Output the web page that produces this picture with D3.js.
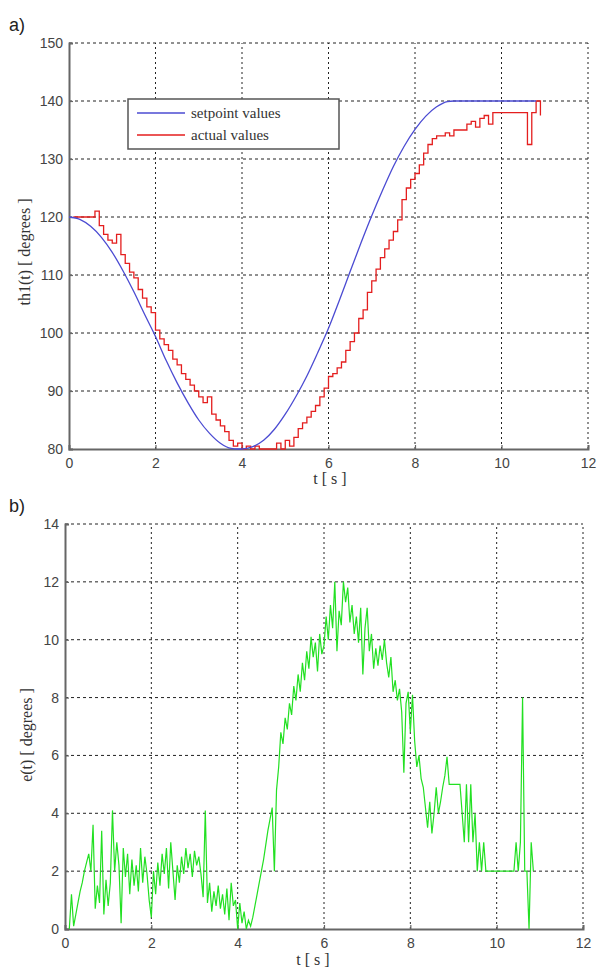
<!DOCTYPE html>
<html>
<head>
<meta charset="utf-8">
<script src="https://cdn.jsdelivr.net/npm/d3@7"></script>
<style>
  body { margin: 0; background: #fff; }
  svg { display: block; }
  .tick-label { font-family: "Liberation Sans", Arial, sans-serif; font-size: 14px; fill: #444; }
  .axis-title { font-family: "Liberation Serif", "Times New Roman", serif; font-size: 16px; fill: #333; }
  .panel-tag { font-family: "Liberation Sans", Arial, sans-serif; font-size: 18px; fill: #222; }
  .legend-text { font-family: "Liberation Serif", "Times New Roman", serif; font-size: 15px; fill: #333; }
</style>
</head>
<body>
<svg id="chart" width="598" height="969"></svg>
<script>
// setpoint trajectory (top panel)
const setT = [0, 0.25, 0.5, 0.75, 1, 1.25, 1.5, 1.75, 2, 2.25, 2.5, 2.75, 3, 3.25, 3.5, 3.75, 3.9, 4,
  4.25, 4.5, 4.75, 5, 5.25, 5.5, 5.75, 6, 6.25, 6.5, 6.75, 7, 7.25, 7.5, 7.75, 8, 8.25, 8.5, 8.75, 8.9, 10.8];
const setVals = [120, 119.6, 118.4, 116.5, 113.9, 110.7, 107.1, 103.2, 99.4, 95.2, 91.4, 88.0, 85.0, 82.7, 81.0, 80.1, 80, 80,
  80.4, 81.5, 83.4, 86.0, 89.1, 92.6, 96.6, 100.8, 105.6, 110.6, 115.5, 120.2, 124.6, 128.7, 132.2, 135.1, 137.4, 139.0, 139.9, 140, 140];

// measured angle, sampled every 0.1 s from t = 0.1
const actStart = 0.1, actStep = 0.1;
const actVals = [
  120, 120, 120, 120, 120, 121, 118.5, 117, 116, 115.5,
  117, 113.5, 112, 110.5, 109.5, 107.5, 106, 104.5, 103.5, 100.5,
  99, 98, 97, 95.5, 94.5, 93, 92, 91, 90, 89,
  88, 89, 86, 85, 84, 83, 81.5, 80.5, 81, 80,
  80.5, 80, 80.5, 80, 80, 80, 80, 81, 80, 81.5,
  80.5, 82, 83.5, 84.5, 85.5, 86.5, 87.5, 89, 90.5, 92.5,
  93, 94, 95, 97, 98.5, 100, 102.5, 104, 107, 109,
  111, 113, 114.5, 116, 117.5, 119.5, 123, 125, 126.5, 127.5,
  129, 131, 132.5, 133.5, 134, 134, 134.5, 134, 135, 135,
  135, 136, 136.5, 135.5, 137, 137.5, 136, 138, 138, 138,
  138, 138, 138, 138, 138, 132.5, 138, 140, 137.5
];

// tracking error, sampled every 0.05 s from t = 0.1
const errStart = 0.1, errStep = 0.05;
const errVals = [
  0, 1.2, 0.1, 0.5, 0.9, 1.3, 1.6, 2.0, 2.3, 2.6,
  2.0, 3.6, 0.7, 1.5, 0.9, 3.4, 0.5, 1.7, 0.8, 1.6,
  4.1, 2.0, 3.0, 2.2, 0.2, 2.8, 1.8, 2.6, 1.2, 2.4,
  1.5, 2.2, 1.3, 2.8, 1.6, 2.5, 1.9, 1.0, 0.4, 2.0,
  1.2, 2.3, 1.5, 2.6, 1.9, 2.8, 1.4, 3.0, 2.0, 1.0,
  2.2, 1.6, 2.5, 1.9, 2.8, 2.1, 2.6, 1.8, 2.7, 2.2,
  2.5, 1.9, 1.1, 4.1, 0.9, 1.6, 0.6, 1.3, 0.8, 1.5,
  0.7, 1.2, 0.5, 1.4, 0.3, 1.6, 0.8, 1.0, 0.0, 0.9,
  0.2, 0.6, 0.0, 0.3, 0.1, 0.4, 0.8, 1.2, 1.6, 2.0,
  2.4, 2.9, 3.4, 3.8, 4.2, 2.0, 4.8, 5.6, 6.8, 6.4,
  7.3, 6.9, 7.8, 7.4, 8.4, 7.9, 8.8, 8.2, 9.2, 8.6,
  9.6, 9.0, 10.1, 9.4, 9.9, 8.9, 10.2, 9.5, 9.8, 10.8,
  10.0, 11.2, 10.4, 12.0, 9.6, 11.0, 10.5, 12.0, 11.3, 11.8,
  10.6, 11.2, 10.2, 10.8, 9.9, 11.1, 8.8, 10.4, 11.1, 9.6,
  10.2, 9.0, 9.7, 9.1, 9.8, 9.3, 10.0, 9.2, 8.7, 9.4,
  8.2, 8.6, 7.9, 8.3, 7.5, 5.4, 7.8, 8.2, 6.8, 8.1,
  6.5, 5.6, 6.0, 5.2, 4.9, 4.2, 3.5, 4.4, 3.3, 4.0,
  4.9, 4.0, 4.4, 4.9, 5.3, 5.95, 5.0, 5.0, 5.0, 5.0,
  5.0, 5.0, 4.0, 3.0, 5.0, 3.0, 5.0, 3.0, 4.0, 2.0,
  3.0, 2.0, 3.0, 2.0, 2.0, 2.0, 2.0, 2.0, 2.0, 2.0,
  2.0, 2.0, 2.0, 2.0, 2.0, 2.0, 2.0, 3.0, 2.0, 3.0,
  8.0, 2.0, 2.0, 0.0, 3.0, 2.0
];

const xTicks = [0, 2, 4, 6, 8, 10, 12];
const topTicks = [80, 90, 100, 110, 120, 130, 140, 150];
const botTicks = [0, 2, 4, 6, 8, 10, 12, 14];
const legendItems = [
  { label: "setpoint values", color: "#4b4bd2" },
  { label: "actual values", color: "#e41e1e" }
];

const svg = d3.select("#chart");

function panel(opt) {
  const x = d3.scaleLinear().domain([0, 12]).range([opt.left, opt.right]);
  const y = d3.scaleLinear().domain(opt.yDomain).range([opt.bottom, opt.top]);
  const g = svg.append("g");

  // dotted grid
  g.append("g").selectAll("line").data(opt.yTicks.filter(v => v !== opt.yDomain[0])).join("line")
    .attr("x1", opt.left).attr("x2", opt.right)
    .attr("y1", d => y(d)).attr("y2", d => y(d))
    .attr("stroke", "#222").attr("stroke-width", 1).attr("stroke-dasharray", "3,3");
  g.append("g").selectAll("line").data(xTicks.filter(v => v !== 0)).join("line")
    .attr("x1", d => x(d)).attr("x2", d => x(d))
    .attr("y1", opt.bottom).attr("y2", opt.top)
    .attr("stroke", "#222").attr("stroke-width", 1).attr("stroke-dasharray", "2,3");

  // axes
  const ax = g.append("g").attr("transform", `translate(0,${opt.bottom})`)
    .call(d3.axisBottom(x).tickValues(xTicks).tickSize(-4).tickPadding(9).tickFormat(d3.format("d")));
  const ay = g.append("g").attr("transform", `translate(${opt.left},0)`)
    .call(d3.axisLeft(y).tickValues(opt.yTicks).tickSize(-4).tickPadding(6).tickFormat(d3.format("d")));
  [ax, ay].forEach(a => {
    a.select(".domain").attr("stroke", "#666").attr("stroke-width", 2);
    a.selectAll(".tick line").attr("stroke", "#666").attr("stroke-width", 1.2);
    a.selectAll(".tick text").attr("class", "tick-label").attr("fill", null);
  });
  ax.selectAll(".tick text").attr("dy", "0.71em");

  svg.append("text").attr("class", "panel-tag").attr("x", 9).attr("y", opt.tagY).text(opt.tag);
  svg.append("text").attr("class", "axis-title").attr("text-anchor", "middle")
    .attr("x", opt.xLabelX).attr("y", opt.xLabelY).text("t [ s ]");
  svg.append("text").attr("class", "axis-title").attr("text-anchor", "middle")
    .attr("transform", `translate(${opt.yLabelX},${opt.yLabelY}) rotate(-90)`).text(opt.yLabel);

  return { x, y, g };
}

// top panel
const topPanel = panel({
  left: 69, right: 588, top: 43, bottom: 449, yDomain: [80, 150], yTicks: topTicks,
  tag: "a)", tagY: 31, xLabelX: 330, xLabelY: 484, yLabelX: 30, yLabelY: 252,
  yLabel: "th1(t) [ degrees ]"
});

const setData = setT.map((t, i) => ({ t, v: setVals[i] }));
const actData = actVals.map((v, i) => ({ t: actStart + i * actStep, v }));

topPanel.g.append("path").datum(actData)
  .attr("fill", "none").attr("stroke", legendItems[1].color).attr("stroke-width", 1.3)
  .attr("d", d3.line().x(d => topPanel.x(d.t)).y(d => topPanel.y(d.v)).curve(d3.curveStepAfter));
topPanel.g.append("path").datum(setData)
  .attr("fill", "none").attr("stroke", legendItems[0].color).attr("stroke-width", 1.3)
  .attr("d", d3.line().x(d => topPanel.x(d.t)).y(d => topPanel.y(d.v)).curve(d3.curveMonotoneX));

// legend
const leg = svg.append("g");
leg.append("rect").attr("x", 128).attr("y", 99).attr("width", 211).attr("height", 50)
  .attr("fill", "#fff").attr("stroke", "#555").attr("stroke-width", 1.5);
legendItems.forEach((d, i) => {
  const ly = 113 + i * 22;
  leg.append("line").attr("x1", 137).attr("x2", 185).attr("y1", ly).attr("y2", ly)
    .attr("stroke", d.color).attr("stroke-width", 1.3);
  leg.append("text").attr("class", "legend-text").attr("x", 191).attr("y", ly + 5).text(d.label);
});

// bottom panel
const botPanel = panel({
  left: 65, right: 583, top: 524, bottom: 929, yDomain: [0, 14], yTicks: botTicks,
  tag: "b)", tagY: 512, xLabelX: 313, xLabelY: 965, yLabelX: 32, yLabelY: 735,
  yLabel: "e(t) [ degrees ]"
});

const errData = errVals.map((v, i) => ({ t: errStart + i * errStep, v }));
botPanel.g.append("path").datum(errData)
  .attr("fill", "none").attr("stroke", "#22e022").attr("stroke-width", 1.2)
  .attr("d", d3.line().x(d => botPanel.x(d.t)).y(d => botPanel.y(d.v)));
</script>
</body>
</html>
